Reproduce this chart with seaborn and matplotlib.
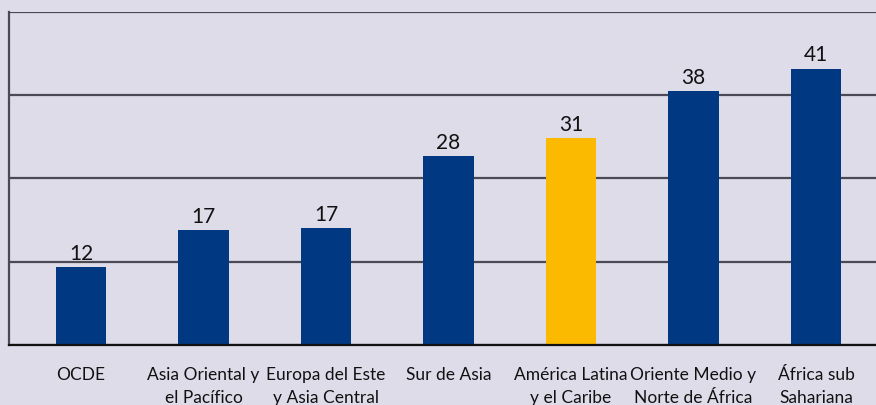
import matplotlib
matplotlib.use("Agg")
import matplotlib.pyplot as plt
import seaborn as sns
import pandas as pd

# Datos
regiones = [
    "OCDE",
    "Asia Oriental y\nel Pacífico",
    "Europa del Este\ny Asia Central",
    "Sur de Asia",
    "América Latina\ny el Caribe",
    "Oriente Medio y\nNorte de África",
    "África sub\nSahariana",
]
valores = [11.7, 17.3, 17.6, 28.4, 31.1, 38.1, 41.5]
etiquetas = ["12", "17", "17", "28", "31", "38", "41"]
grupo = ["otro", "otro", "otro", "otro", "alc", "otro", "otro"]

BG = "#dfdcea"
AZUL = "#003882"
AMARILLO = "#fbba00"
GRID = "#4a4a55"

sns.set_style("white")
plt.rcParams["font.family"] = ["Lato", "DejaVu Sans"]

df = pd.DataFrame({"region": regiones, "valor": valores, "grupo": grupo})

fig = plt.figure(figsize=(8.76, 4.06), dpi=100)
fig.patch.set_facecolor(BG)
ax = fig.add_axes([0.0108, 0.148, 1 - 0.0108, 0.82])
ax.set_facecolor(BG)

sns.barplot(data=df, x="region", y="valor", hue="grupo",
            palette={"otro": AZUL, "alc": AMARILLO},
            width=0.41, dodge=False, legend=False, saturation=1,
            linewidth=0, ax=ax)

# etiquetas sobre las barras
for cont in ax.containers:
    labs = []
    for bar in cont:
        i = int(round(bar.get_x() + bar.get_width() / 2))
        labs.append(etiquetas[i] if bar.get_height() > 0 else "")
    ax.bar_label(cont, labels=labs, padding=3, fontsize=15, color="#111111")

ax.set_ylim(0, 50)
ax.set_xlim(-0.585, 6.49)
ax.set_yticks([0, 12.5, 25, 37.5, 50])
ax.set_yticklabels([])
ax.tick_params(axis="y", length=0)
ax.tick_params(axis="x", length=0, pad=15.5, labelsize=12.5, labelcolor="#111111")
ax.yaxis.grid(True, color=GRID, linewidth=1.6)
ax.set_axisbelow(True)
ax.set_xlabel("")
ax.set_ylabel("")

for lab in ax.get_xticklabels():
    lab.set_linespacing(1.5)

ax.spines["right"].set_visible(False)
ax.spines["top"].set_visible(False)
ax.spines["left"].set_color(GRID)
ax.spines["left"].set_linewidth(1.6)
ax.spines["bottom"].set_color("#111111")
ax.spines["bottom"].set_linewidth(1.6)

fig.savefig("out.png", dpi=100, facecolor=BG)
